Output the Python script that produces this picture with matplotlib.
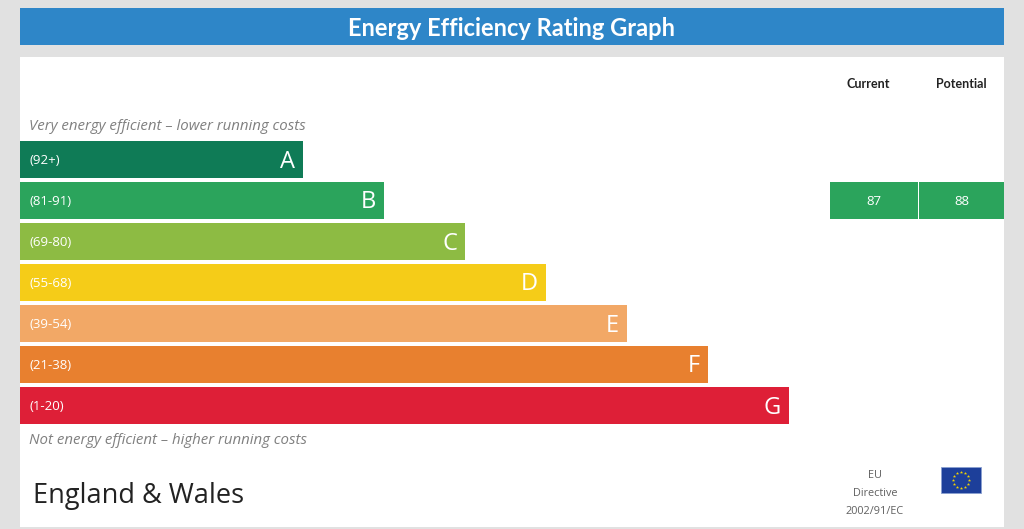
import numpy as np
import matplotlib
matplotlib.use('Agg')
import matplotlib.pyplot as plt
from matplotlib.patches import Rectangle

# rating bands
bands = ['A', 'B', 'C', 'D', 'E', 'F', 'G']
ranges = ['(92+)', '(81-91)', '(69-80)', '(55-68)', '(39-54)', '(21-38)', '(1-20)']
range_low = [92, 81, 69, 55, 39, 21, 1]
band_colors = ['#0f7b56', '#2ba45c', '#8dbb43', '#f5cc18', '#f2a866', '#e8802f', '#de1f37']

current = 87
potential = 88

title = 'Energy Efficiency Rating Graph'
top_note = 'Very energy efficient \u2013 lower running costs'
bottom_note = 'Not energy efficient \u2013 higher running costs'
region = 'England & Wales'
directive = ['EU', 'Directive', '2002/91/EC']


def band_of(v):
    for i, lo in enumerate(range_low):
        if v >= lo:
            return i
    return len(range_low) - 1


W, H = 1024, 529
fig = plt.figure(figsize=(W / 100, H / 100), dpi=100)
fig.patch.set_facecolor('#e1e1e1')
ax = fig.add_axes([0, 0, 1, 1])
ax.set_xlim(0, W)
ax.set_ylim(H, 0)
ax.axis('off')

# title bar + white panel
ax.add_patch(Rectangle((20, 8), 984, 37, facecolor='#2e86c8', edgecolor='none'))
ax.text(512, 28, title, ha='center', va='center', color='white',
        fontsize=17, fontweight='bold', family='Lato')
ax.add_patch(Rectangle((20, 57), 984, 470, facecolor='white', edgecolor='none'))

# bars
row_top = 141
step = 41
bar_h = 37
ys = [row_top + bar_h / 2 + step * i for i in range(len(bands))]
widths = [283 + 81 * i for i in range(len(bands))]
ax.barh(ys, widths, height=bar_h, left=20, color=band_colors, edgecolor='none')
for y, w, b, r in zip(ys, widths, bands, ranges):
    ax.text(29, y + 1, r, ha='left', va='center', color='white', fontsize=9.5, family='Open Sans')
    ax.text(20 + w - 8, y + 2, b, ha='right', va='center', color='white', fontsize=17,
            family='Open Sans')

ax.text(29, 126, top_note, ha='left', va='center', color='#808080', fontsize=10.8,
        style='italic', family='Open Sans')
ax.text(29, 440, bottom_note, ha='left', va='center', color='#808080', fontsize=10.8,
        style='italic', family='Open Sans')

# current / potential columns
cols = [(830, 918, 'Current', current), (919, 1004, 'Potential', potential)]
head_x = [868, 961]
for (x0, x1, lab, val), hx in zip(cols, head_x):
    xc = (x0 + x1) / 2
    ax.text(hx, 84, lab, ha='center', va='center', color='#222222', fontsize=9,
            fontweight='bold', family='Lato')
    i = band_of(val)
    ax.add_patch(Rectangle((x0, ys[i] - bar_h / 2), x1 - x0, bar_h,
                           facecolor=band_colors[i], edgecolor='none'))
    ax.text(xc, ys[i] + 1, str(val), ha='center', va='center', color='white',
            fontsize=9.5, family='Open Sans')

# footer
ax.text(33, 496, region, ha='left', va='center', color='#222222', fontsize=19.5, family='Open Sans')
for k, line in enumerate(directive):
    ax.text(875, 476 + 18 * k, line, ha='center', va='center', color='#606060',
            fontsize=7.8, family='Open Sans')

# EU flag
ax.add_patch(Rectangle((941, 467), 40, 26, facecolor='#1d3f9a', edgecolor='#8aa0d0', lw=0.6))
ang = np.linspace(0, 2 * np.pi, 12, endpoint=False)
ax.scatter(961 + 8 * np.cos(ang), 480 + 8 * np.sin(ang), marker='*', s=6,
           color='#f4d400', linewidths=0)

fig.savefig('out.png', dpi=100, facecolor=fig.get_facecolor())
